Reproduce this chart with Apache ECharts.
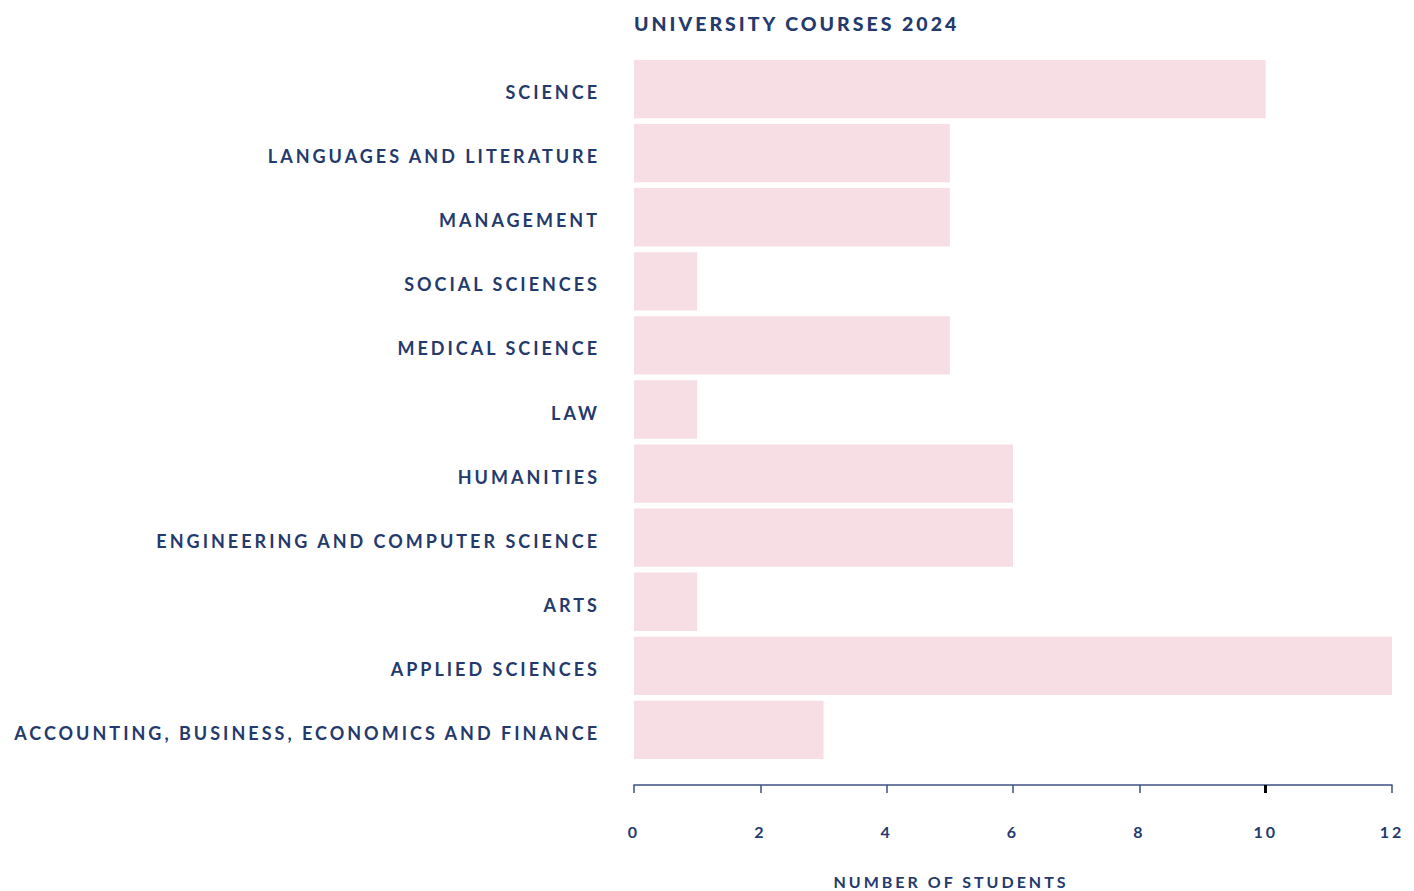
<!DOCTYPE html>
<html>
<head>
<meta charset="utf-8">
<script src="https://cdn.jsdelivr.net/npm/echarts@6/dist/echarts.min.js"></script>
<style>
  html, body { margin: 0; padding: 0; background: #ffffff; }
  #chart { width: 1414px; height: 891px; }
  #chart text { letter-spacing: 3px; }
</style>
</head>
<body>
<div id="chart"></div>
<script>
// Course categories, listed top to bottom
const courses = [
  'SCIENCE',
  'LANGUAGES AND LITERATURE',
  'MANAGEMENT',
  'SOCIAL SCIENCES',
  'MEDICAL SCIENCE',
  'LAW',
  'HUMANITIES',
  'ENGINEERING AND COMPUTER SCIENCE',
  'ARTS',
  'APPLIED SCIENCES',
  'ACCOUNTING, BUSINESS, ECONOMICS AND FINANCE'
];
// Number of students per course
const students = [10, 5, 5, 1, 5, 1, 6, 6, 1, 12, 3];
// Horizontal axis range and step
const axisMin = 0;
const axisMax = 12;
const axisStep = 2;
// Tick drawn darker on the horizontal axis
const markedTicks = [10];

const navy = '#243a6d';
const barPink = '#f6dee4';
const fontFamily = 'Lato, "Open Sans", sans-serif';

const baseX = {
  type: 'value',
  min: axisMin,
  max: axisMax,
  interval: axisStep,
  position: 'bottom',
  offset: 23,
  splitLine: { show: false }
};

const chart = echarts.init(document.getElementById('chart'), null, { renderer: 'svg' });
chart.setOption({
  animation: false,
  backgroundColor: '#ffffff',
  title: {
    text: 'UNIVERSITY COURSES 2024',
    left: 629,
    top: 8,
    textStyle: { color: navy, fontFamily, fontWeight: 900, fontSize: 19.5 }
  },
  grid: { left: 634, right: 22, top: 57, bottom: 129, containLabel: false, outerBoundsMode: 'none' },
  xAxis: [
    Object.assign({}, baseX, {
      name: 'NUMBER OF STUDENTS',
      nameLocation: 'middle',
      nameGap: 88,
      nameTextStyle: {
        color: navy, fontFamily, fontWeight: 'bold', fontSize: 16,
        padding: [0, 124, 0, 0]
      },
      axisLine: { show: true, lineStyle: { color: '#3c5080', width: 1.5 } },
      axisTick: { show: true, length: 8, lineStyle: { color: '#3c5080', width: 1.5 } },
      axisLabel: { color: navy, fontFamily, fontWeight: 'bold', fontSize: 16, margin: 38 }
    }),
    Object.assign({}, baseX, {
      axisLine: { show: false },
      axisTick: { show: true, length: 8, customValues: markedTicks, lineStyle: { color: '#000000', width: 3 } },
      axisLabel: { show: false }
    })
  ],
  yAxis: {
    type: 'category',
    data: courses,
    inverse: true,
    axisLine: { show: false },
    axisTick: { show: false },
    axisLabel: {
      color: navy, fontFamily, fontWeight: 'bold', fontSize: 18, margin: 34,
      verticalAlign: 'top', lineHeight: 6
    }
  },
  series: [{
    type: 'bar',
    data: students,
    barCategoryGap: '9%',
    itemStyle: { color: barPink },
    silent: true
  }]
});
</script>
</body>
</html>
